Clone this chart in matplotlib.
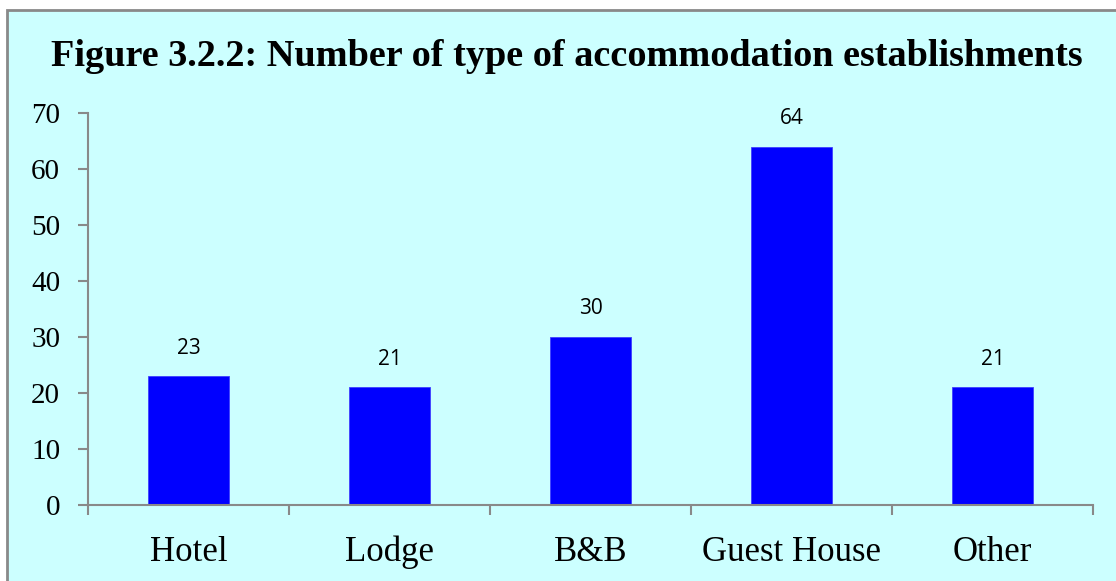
import matplotlib.pyplot as plt
from matplotlib.patches import Rectangle

categorias = ["Hotel", "Lodge", "B&B", "Guest House", "Other"]
valores = [23, 21, 30, 64, 21]

W, H = 1116, 581
fig = plt.figure(figsize=(W / 100, H / 100), dpi=100)
fig.patch.set_facecolor("white")

# fondo cian con borde gris solo arriba e izquierda visible
fondo = Rectangle((7 / W, 0 - 0.05), 1.2, 1 - 10 / H + 0.05, transform=fig.transFigure,
                  facecolor="#ccffff", edgecolor="#898989", linewidth=2, zorder=-1)
fig.patches.append(fondo)

ax = fig.add_axes([88 / W, 1 - 505 / H, (1093 - 88) / W, (505 - 113) / H])
ax.set_facecolor("none")

x = range(len(categorias))
ax.bar(x, valores, width=0.4, color="#0000ff", edgecolor="#3f3fff", linewidth=0.6, zorder=2)

for xi, v in zip(x, valores):
    ax.text(xi, v + 5, str(v), ha="center", va="center", fontsize=15,
            family="Open Sans", color="black")

ax.set_xlim(-0.5, len(categorias) - 0.5)
ax.set_ylim(0, 70)
ax.set_yticks(range(0, 71, 10))
ax.set_yticklabels([str(v) for v in range(0, 71, 10)], family="Liberation Serif", fontsize=21)

ax.set_xticks([i - 0.5 for i in range(len(categorias) + 1)])
ax.set_xticklabels([])
ax.set_xticks(list(x), minor=True)
ax.set_xticklabels(categorias, minor=True, family="Liberation Serif", fontsize=25)
ax.tick_params(axis="x", which="minor", length=0, pad=22)
ax.tick_params(axis="x", which="major", length=7, width=1.5, color="#898989", direction="out")
ax.tick_params(axis="y", length=7, width=1.5, color="#898989", direction="out", pad=13)

for s in ["top", "right"]:
    ax.spines[s].set_visible(False)
for s in ["left", "bottom"]:
    ax.spines[s].set_color("#898989")
    ax.spines[s].set_linewidth(1.5)

fig.text(567 / W, 1 - 57 / H, "Figure 3.2.2: Number of type of accommodation establishments",
         ha="center", va="center", fontsize=27.5, fontweight="bold", family="Liberation Serif")

fig.savefig("out.png", dpi=100)
